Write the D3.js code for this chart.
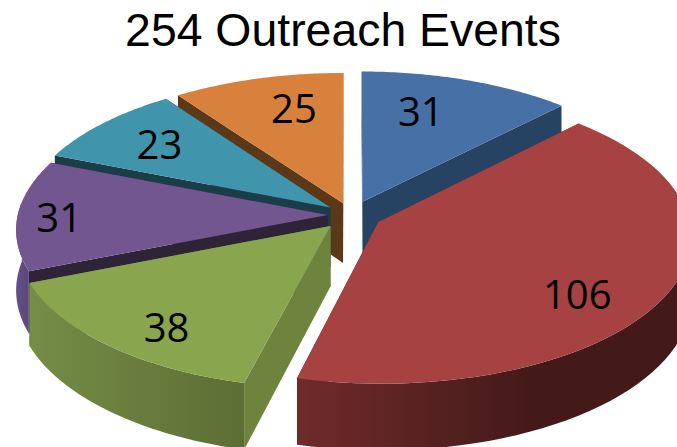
<!DOCTYPE html>
<html>
<head>
<meta charset="utf-8">
<script src="https://cdn.jsdelivr.net/npm/d3@7"></script>
<style>
  html, body { margin: 0; padding: 0; background: #fff; overflow: hidden; }
  svg { display: block; }
</style>
</head>
<body>
<svg id="chart" width="677" height="447"></svg>
<script>
var title = "254 Outreach Events";
var categories = ["A", "B", "C", "D", "E", "F"];
var events = [31, 106, 38, 31, 23, 25];

var topColors = ["#4670a6", "#a64342", "#89a54e", "#71568f", "#4095ad", "#d8813c"];
var cutColors = ["#274364", "#5a2423", "#6e843e", "#2f2338", "#1b3d48", "#5b3817"];
var wallLeft = ["#3c6090", "#6e2b2a", "#758d47", "#64508a", "#35788c", "#b06a30"];
var wallRight = ["#2d4a6e", "#431a19", "#5c6e34", "#5c4678", "#2b6070", "#8c5426"];

var svg = d3.select("#chart"),
    width = +svg.attr("width"),
    height = +svg.attr("height");

// tilted disc with some perspective, unit radius in plane coords
var persp = 0.0947,
    thickness = 60;

var x = d3.scaleLinear().domain([0, 1]).range([351, 661]);
var y = d3.scaleLinear().domain([0, 1]).range([215, 70.1]);

function project(px, py, z) {
  var w = 1 + persp * py;
  return [x(px / w), y(py / w) + z * thickness / w];
}

var pie = d3.pie().sort(null).value(function(d) { return d; });
var slices = pie(events);
var line = d3.line();

var defs = svg.append("defs");
var chart = svg.append("g");

// back to front, so nearer slices paint over the walls behind them
var paintOrder = [0, 5, 4, 3, 2, 1];

// how far each slice is pulled out
var explode = [0.1, 0.1, 0.1, 0.075, 0.085, 0.085];

// label placement, radius on the disc and a small turn off the bisector
var labelR = [0.70, 0.77, 0.81, 0.865, 0.74, 0.725];
var labelTurn = [-5, 9, -4, -1, 0, 4];

paintOrder.forEach(function(i) {
  var s = slices[i],
      mid = (s.startAngle + s.endAngle) / 2,
      ox = explode[i] * Math.sin(mid),
      oy = explode[i] * Math.cos(mid);

  function rim(a, z) {
    return project(ox + Math.sin(a), oy + Math.cos(a), z);
  }

  var top = [], bottom = [], wallTop = [], wallBottom = [], n = 60;
  for (var k = 0; k <= n; k++) {
    var a = s.startAngle + (s.endAngle - s.startAngle) * k / n;
    top.push(rim(a, 0));
    bottom.push(rim(a, 1));
    // the rear part of the rim faces away from the viewer
    if (Math.cos(a) < 0.1) {
      wallTop.push(rim(a, 0));
      wallBottom.push(rim(a, 1));
    }
  }

  var apexTop = project(ox, oy, 0),
      apexBottom = project(ox, oy, 1);

  var g = chart.append("g").attr("class", "slice " + categories[i]);

  [top[0], top[n]].forEach(function(edge, j) {
    var edgeBottom = j ? bottom[n] : bottom[0];
    g.append("path")
        .attr("d", line([apexTop, edge, edgeBottom, apexBottom]) + "Z")
        .attr("fill", cutColors[i]);
  });

  if (wallTop.length) {
    var xs = d3.extent(wallTop, function(p) { return p[0]; });
    var grad = defs.append("linearGradient")
        .attr("id", "wall" + i)
        .attr("gradientUnits", "userSpaceOnUse")
        .attr("x1", xs[0]).attr("x2", xs[1])
        .attr("y1", 0).attr("y2", 0);
    grad.append("stop").attr("offset", 0).attr("stop-color", wallLeft[i]);
    // the red wall reaches its darkest well before the right end
    grad.append("stop").attr("offset", i == 1 ? 0.6 : 1).attr("stop-color", wallRight[i]);

    g.append("path")
        .attr("d", line(wallTop.concat(wallBottom.slice().reverse())) + "Z")
        .attr("fill", "url(#wall" + i + ")");
  }

  g.append("path")
      .attr("d", line([apexTop].concat(top)) + "Z")
      .attr("fill", topColors[i]);
});

slices.forEach(function(s, i) {
  var mid = (s.startAngle + s.endAngle) / 2,
      turn = mid + labelTurn[i] * Math.PI / 180,
      ox = explode[i] * Math.sin(mid) + labelR[i] * Math.sin(turn),
      oy = explode[i] * Math.cos(mid) + labelR[i] * Math.cos(turn),
      p = project(ox, oy, 0);

  svg.append("text")
      .attr("x", p[0])
      .attr("y", p[1])
      .attr("dy", "0.36em")
      .attr("text-anchor", "middle")
      .attr("font-family", "'Open Sans', sans-serif")
      .attr("font-size", 40)
      .attr("fill", "#000")
      .text(s.value);
});

svg.append("text")
    .attr("x", 343)
    .attr("y", 46)
    .attr("text-anchor", "middle")
    .attr("font-family", "'Liberation Sans', Arial, sans-serif")
    .attr("font-size", 46.4)
    .attr("fill", "#000")
    .text(title);
</script>
</body>
</html>
